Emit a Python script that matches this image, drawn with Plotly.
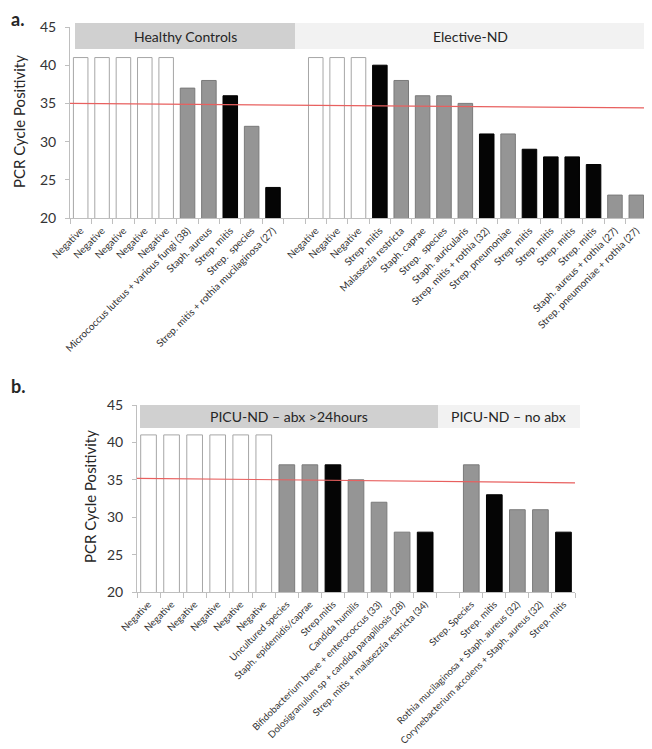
import plotly.graph_objects as go

# ---------------- data ----------------
# Panel a
hc_labels = ["Negative", "Negative", "Negative", "Negative", "Negative",
             "Micrococcus luteus + various fungi (38)", "Staph. aureus", "Strep. mitis",
             "Strep.  species", "Strep. mitis + rothia mucilaginosa (27)"]
hc_values = [41, 41, 41, 41, 41, 37, 38, 36, 32, 24]
hc_kind = ["neg", "neg", "neg", "neg", "neg", "other", "other", "mitis", "other", "mitis"]

el_labels = ["Negative", "Negative", "Negative", "Strep. mitis", "Malassezia restricta",
             "Staph. caprae", "Strep.  species", "Staph. auricularis",
             "Strep. mitis + rothia (32)", "Strep. pneumoniae", "Strep. mitis", "Strep. mitis",
             "Strep. mitis", "Strep. mitis", "Staph. aureus + rothia (27)",
             "Strep. pneumoniae + rothia (27)"]
el_values = [41, 41, 41, 40, 38, 36, 36, 35, 31, 31, 29, 28, 28, 27, 23, 23]
el_kind = ["neg", "neg", "neg", "mitis", "other", "other", "other", "other", "mitis",
           "other", "mitis", "mitis", "mitis", "mitis", "other", "other"]

# Panel b
abx_labels = ["Negative", "Negative", "Negative", "Negative", "Negative", "Negative",
              "Uncultured species", "Staph. epidemidis/caprae", "Strep.mitis", "Candida humilis",
              "Bifidobacterium breve + enterococcus (33)",
              "Dolosigranulum sp + candida parapillosis (28)",
              "Strep. mitis + malasezzia restricta (34)"]
abx_values = [41, 41, 41, 41, 41, 41, 37, 37, 37, 35, 32, 28, 28]
abx_kind = ["neg"] * 6 + ["other", "other", "mitis", "other", "other", "other", "mitis"]

noabx_labels = ["Strep. Species", "Strep. mitis", "Rothia mucilaginosa + Staph. aureus (32)",
                "Corynebacterium accolens + Staph. aureus (32)", "Strep. mitis"]
noabx_values = [37, 33, 31, 31, 28]
noabx_kind = ["other", "mitis", "other", "other", "mitis"]

threshold_a = [35.0, 34.4]
threshold_b = [35.2, 34.6]

group_names_a = ["Healthy Controls", "Elective-ND"]
group_names_b = ["PICU-ND \u2013 abx >24hours", "PICU-ND \u2013 no abx"]

# ---------------- styling ----------------
FILL = {"neg": "#ffffff", "other": "#959595", "mitis": "#050505"}
EDGE = {"neg": "#a6a6a6", "other": "#7a7a7a", "mitis": "#000000"}
FONT = "Lato"
OFF = 8            # page body margin
W, H = 652 - OFF, 749 - OFF


def px_x(p):
    return (p - OFF) / W


def px_y(p):
    return 1 - (p - OFF) / H


fig = go.Figure()


def add_panel(g1_labels, g1_vals, g1_kind, g2_labels, g2_vals, g2_kind, thr, xa, ya):
    n1 = len(g1_labels)
    pos = list(range(n1)) + list(range(n1 + 1, n1 + 1 + len(g2_labels)))
    labels = g1_labels + g2_labels
    vals = g1_vals + g2_vals
    kinds = g1_kind + g2_kind
    fig.add_trace(go.Bar(
        x=pos, y=vals, width=0.68,
        marker=dict(color=[FILL[k] for k in kinds],
                    line=dict(color=[EDGE[k] for k in kinds], width=1)),
        xaxis=xa, yaxis=ya, showlegend=False, hoverinfo="x+y"))
    nslots = len(pos) + 1
    fig.add_trace(go.Scatter(
        x=[-0.5, nslots - 0.5], y=thr, mode="lines",
        line=dict(color="#e8605f", width=1.2), xaxis=xa, yaxis=ya,
        showlegend=False, hoverinfo="skip"))
    return pos, labels, nslots


pos_a, lab_a, n_a = add_panel(hc_labels, hc_values, hc_kind, el_labels, el_values, el_kind,
                              threshold_a, "x", "y")
pos_b, lab_b, n_b = add_panel(abx_labels, abx_values, abx_kind, noabx_labels, noabx_values,
                              noabx_kind, threshold_b, "x2", "y2")


def xaxis_cfg(pos, labels, nslots, domain, anchor, fsize):
    return dict(
        domain=domain, anchor=anchor, range=[-0.5, nslots - 0.5], automargin=False,
        tickmode="array", tickvals=pos, ticktext=labels, tickangle=-45,
        ticks="outside", ticklen=2, tickcolor="rgba(0,0,0,0)",
        minor=dict(tickmode="array", tickvals=[i - 0.5 for i in range(nslots + 1)],
                   ticks="outside", ticklen=5, tickcolor="#bfbfbf", tickwidth=1),
        showline=True, linecolor="#bfbfbf", linewidth=1, showgrid=False, zeroline=False,
        tickfont=dict(family=FONT, size=fsize, color="#333333"), fixedrange=True)


def yaxis_cfg(domain, anchor):
    return dict(
        domain=domain, anchor=anchor, range=[20, 45], tickvals=[20, 25, 30, 35, 40, 45],
        automargin=False,
        ticks="outside", ticklen=4, tickcolor="#bfbfbf", showline=True, linecolor="#bfbfbf",
        showgrid=False, zeroline=False, ticklabelstandoff=6,
        tickfont=dict(family=FONT, size=14, color="#333333"), fixedrange=True)


fig.update_layout(
    width=W, height=H, margin=dict(l=0, r=0, t=0, b=0, autoexpand=False),
    paper_bgcolor="white", plot_bgcolor="white", bargap=0.3,
    xaxis=xaxis_cfg(pos_a, lab_a, n_a, [px_x(70), px_x(647)], "y", 10),
    yaxis=yaxis_cfg([px_y(218), px_y(27)], "x"),
    xaxis2=xaxis_cfg(pos_b, lab_b, n_b, [px_x(137), px_x(575)], "y2", 9.6),
    yaxis2=yaxis_cfg([px_y(592), px_y(405)], "x2"),
)

shapes = []
annots = []


def header(x0, x1, y0, y1, color, text, tx):
    shapes.append(dict(type="rect", xref="paper", yref="paper",
                       x0=px_x(x0), x1=px_x(x1), y0=px_y(y1), y1=px_y(y0),
                       fillcolor=color, line=dict(width=0), layer="above"))
    annots.append(dict(xref="paper", yref="paper", x=px_x(tx), y=px_y((y0 + y1) / 2),
                       text=text, showarrow=False, xanchor="center", yanchor="middle",
                       font=dict(family=FONT, size=14, color="#262626")))


header(75, 295, 23, 49, "#d0d0d0", group_names_a[0], 185)
header(295, 647, 23, 49, "#f2f2f2", group_names_a[1], 470)
header(140, 438, 405, 428, "#d0d0d0", group_names_b[0], 289)
header(438, 580, 405, 428, "#f2f2f2", group_names_b[1], 508)

for txt, x, y in [("a.", 9, 19), ("b.", 9, 386)]:
    annots.append(dict(xref="paper", yref="paper", x=px_x(x), y=px_y(y), text="<b>" + txt + "</b>",
                       showarrow=False, xanchor="left", yanchor="middle",
                       font=dict(family=FONT, size=18, color="#262626")))

for x, y in [(19, 122), (90, 497)]:
    annots.append(dict(xref="paper", yref="paper", x=px_x(x), y=px_y(y),
                       text="PCR Cycle Positivity", textangle=-90, showarrow=False,
                       xanchor="center", yanchor="middle",
                       font=dict(family=FONT, size=15, color="#262626")))

fig.update_layout(shapes=shapes, annotations=annots)
fig.write_html("out.html")
